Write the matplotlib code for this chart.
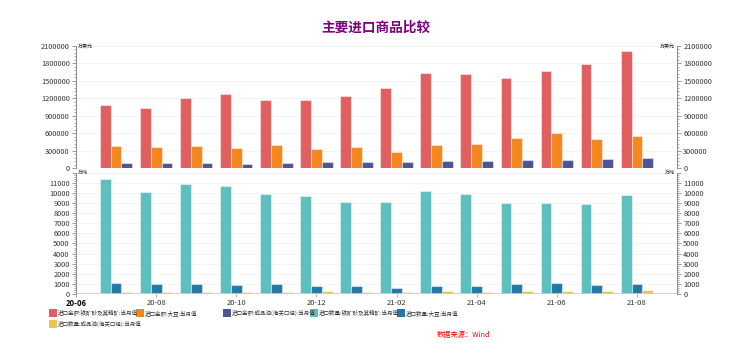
import numpy as np
import matplotlib.pyplot as plt
from matplotlib.patches import Rectangle
from matplotlib.ticker import MultipleLocator, FormatStrFormatter

plt.rcParams['font.family'] = ['Noto Sans CJK SC', 'DejaVu Sans']

# months: 0 = 20-06 ... bars at 20-07 .. 21-08
months = ['20-07', '20-08', '20-09', '20-10', '20-11', '20-12', '21-01',
          '21-02', '21-03', '21-04', '21-05', '21-06', '21-07', '21-08']
xlabels = ['20-06', '20-08', '20-10', '20-12', '21-02', '21-04', '21-06', '21-08']

# 进口金额 (万美元)
amt_iron = [1089000, 1033000, 1200000, 1279000, 1170000, 1165000, 1234000,
            1372000, 1630000, 1613000, 1549000, 1670000, 1790000, 2014000]
amt_soy = [379000, 361000, 373000, 344000, 396000, 327000, 356000,
           270000, 390000, 408000, 511000, 602000, 500000, 550000]
amt_oil = [81000, 81000, 81000, 64000, 85000, 98000, 98000,
           103000, 126000, 120000, 143000, 137000, 155000, 177000]
# 进口数量 (万吨)
qty_iron = [11340, 10100, 10880, 10720, 9870, 9700, 9150,
            9080, 10230, 9900, 9020, 8990, 8920, 9800]
qty_soy = [1050, 980, 1010, 880, 980, 780, 780,
           590, 780, 750, 980, 1080, 880, 980]
qty_oil = [200, 210, 200, 190, 210, 290, 200,
           230, 260, 210, 250, 260, 280, 390]

names = ['进口金额:铁矿砂及其精矿:当月值', '进口金额:大豆:当月值',
         '进口金额:成品油(海关口径):当月值', '进口数量:铁矿砂及其精矿:当月值',
         '进口数量:大豆:当月值', '进口数量:成品油(海关口径):当月值']
colors = ['#e05f5f', '#f5871f', '#4b5594', '#5fbebe', '#2677a5', '#e8c553']

x = np.arange(1, len(months) + 1)
w = 0.27
edge = (1, 1, 1, 0.45)

fig = plt.figure(figsize=(7.41, 3.61), dpi=100)
L, R = 76 / 741, 677 / 741
ax1 = fig.add_axes([L, 1 - 168 / 361, R - L, 122 / 361])
ax2 = fig.add_axes([L, 1 - 294 / 361, R - L, 121.3 / 361])

for ax, series, cols, top, step, unit in [
        (ax1, [amt_iron, amt_soy, amt_oil], colors[:3], 2100000, 300000, '万美元'),
        (ax2, [qty_iron, qty_soy, qty_oil], colors[3:], 12000, 1000, '万吨')]:
    for k, (vals, c) in enumerate(zip(series, cols)):
        ax.bar(x + (k - 1) * w, vals, w, color=c, edgecolor=edge, linewidth=0.8, zorder=3)
    ax.set_xlim(0, 15)
    ax.set_ylim(0, top)
    ax.yaxis.set_major_locator(MultipleLocator(step))
    ax.yaxis.set_minor_locator(MultipleLocator(step / 5))
    ax.yaxis.set_major_formatter(FormatStrFormatter('%d'))
    ax.grid(axis='y', color='#f3f3f3', linewidth=0.6, zorder=0)
    for s in ['top', 'bottom']:
        ax.spines[s].set_visible(False)
    for s in ['left', 'right']:
        ax.spines[s].set_color('#888888')
        ax.spines[s].set_linewidth(0.7)
    ax.tick_params(axis='y', which='both', left=True, right=True, labelleft=True,
                   labelright=True, labelsize=5.3, colors='#888888', labelcolor='#333333',
                   pad=1.5)
    ax.tick_params(axis='y', which='major', length=3, width=0.6)
    ax.tick_params(axis='y', which='minor', length=1.5, width=0.5)
    ax.text(0.003, top, unit, transform=ax.get_yaxis_transform(), fontsize=3.6,
            va='center', ha='left', color='#222222')
    ax.text(0.997, top, unit, transform=ax.get_yaxis_transform(), fontsize=3.6,
            va='center', ha='right', color='#222222')

# hide the 12000 label on the lower axes
ticks2 = np.arange(0, 12001, 1000)
ax2.set_yticks(ticks2)
ax2.set_yticklabels([str(t) if t < 12000 else '' for t in ticks2])
ax1.set_xticks([])

ax2.axhline(0, color='#cccccc', linewidth=2, zorder=4)
ax2.set_xticks(np.arange(0, 15, 2))
ax2.set_xticklabels(xlabels)
ax2.tick_params(axis='x', length=2, width=0.6, colors='#999999', labelcolor='#333333',
                labelsize=5.5, pad=1.5)
ax2.get_xticklabels()[0].set_fontweight('bold')
ax2.get_xticklabels()[0].set_color('black')

fig.text(376 / 741, 1 - 28 / 361, '主要进口商品比较', ha='center', va='center',
         fontsize=9.8, fontweight='bold', color='#800080')

# legend: fixed slots
slots = [(49, 313), (136, 313), (223, 313), (310, 313), (397, 313), (49, 324)]
for (px, py), name, c in zip(slots, names, colors):
    fig.add_artist(Rectangle((px / 741, 1 - (py + 4) / 361), 8 / 741, 8 / 361,
                             transform=fig.transFigure, facecolor=c, edgecolor='none'))
    fig.text((px + 9) / 741, 1 - py / 361, name, fontsize=4.0, va='center',
             ha='left', color='#333333')

fig.text(490 / 741, 1 - 335 / 361, '数据来源：Wind', fontsize=5.2, style='italic',
         color='#ff0000', ha='right', va='center')

fig.savefig('out.png', dpi=100)
